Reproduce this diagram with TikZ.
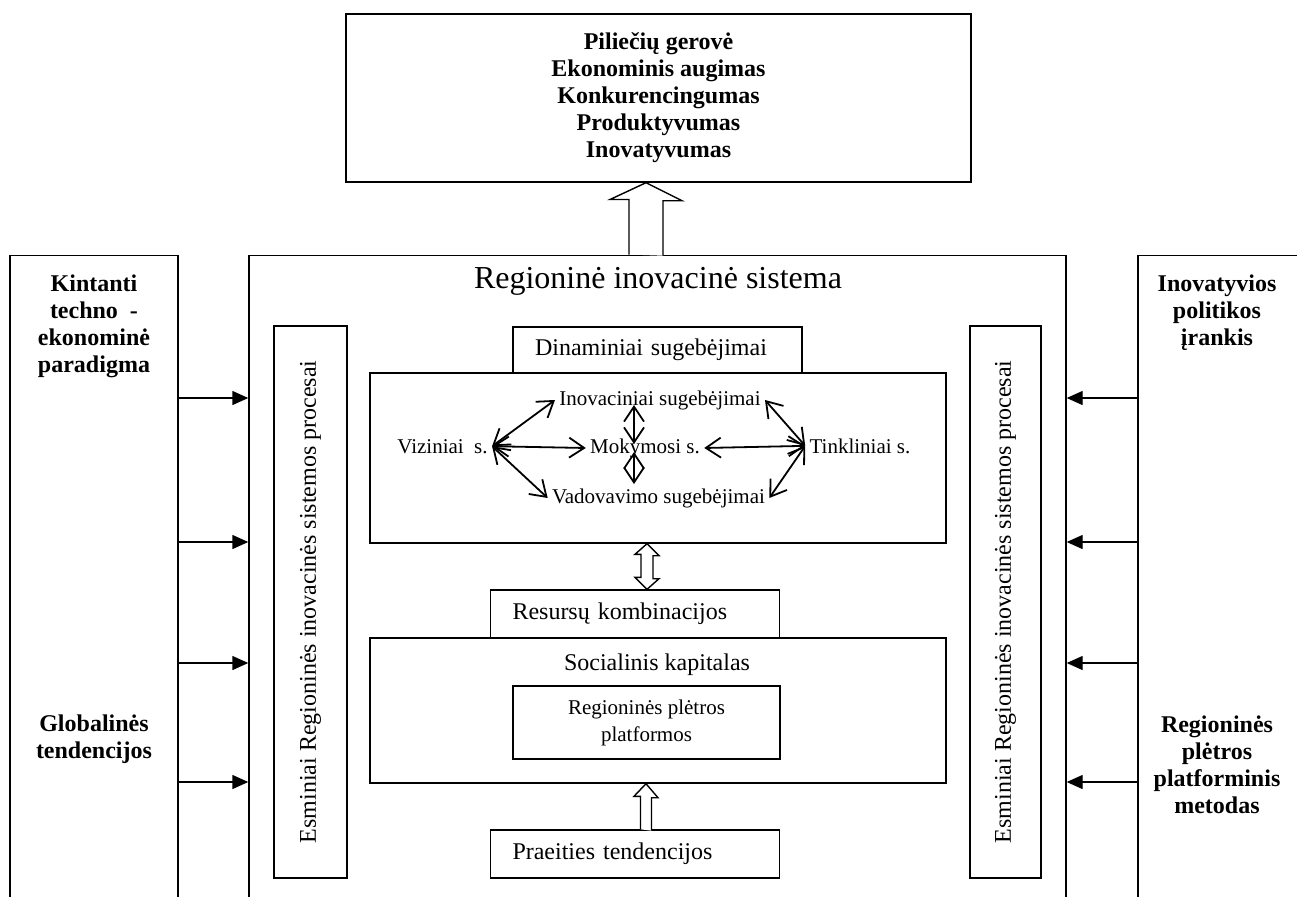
\documentclass[tikz,border=0pt]{standalone}
\usepackage{fontspec}
\setmainfont{Liberation Serif}
\usepackage{tikz}
\usetikzlibrary{arrows.meta}

\begin{document}
\begin{tikzpicture}[x=.5pt,y=-.5pt,font=\fontsize{12}{13.5}\selectfont]
    \tikzstyle{box}=[draw,line width=.7pt,rectangle,inner sep=0pt]
    \tikzstyle{tab}=[box,align=left,inner xsep=11pt,text width=122.5pt]
    \tikzstyle{lbl}=[inner sep=2pt,anchor=base,font=\fontsize{10.5}{12}\selectfont]
    \tikzstyle{bold}=[align=center,inner sep=0pt,font=\bfseries\fontsize{12}{13.5}\selectfont]
    \tikzstyle{inarr}=[draw,line width=.7pt,-{Triangle[length=8pt,width=7pt]}]
    \tikzstyle{caparr}=[draw,line width=.9pt,{Straight Barb[length=7.5pt,width=10pt]}-{Straight Barb[length=7.5pt,width=10pt]}]
    \tikzstyle{hollow}=[draw,line width=.7pt,fill=white]
    \useasboundingbox (0,0) rectangle (1297,896);
    \clip (0,0) rectangle (1297,896);
    % outer frames
    \node[box,minimum width=84pt,minimum height=330pt,anchor=north] (lbox) at (94,254.5) {};
    \node[box,minimum width=84pt,minimum height=330pt,anchor=north] (rbox) at (1222,254.5) {};
    \node[box,minimum width=408.5pt,minimum height=330pt,anchor=north] (ris) at (657.5,254.5) {};
    \node[box,bold,minimum width=312.5pt,minimum height=84pt] (top) at (658.5,98) {Piliečių gerovė\\Ekonominis augimas\\Konkurencingumas\\Produktyvumas\\Inovatyvumas};
    \node[bold,anchor=north] (kint) at (94,274) {Kintanti\\techno~ -\\ekonominė\\paradigma};
    \node[bold,anchor=north] (glob) at (94,714) {Globalinės\\tendencijos};
    \node[bold,anchor=north] (pol) at (1217,274) {Inovatyvios\\politikos\\įrankis};
    \node[bold,anchor=north] (metod) at (1217,715) {Regioninės\\plėtros\\platforminis\\metodas};
    \node[anchor=base,font=\fontsize{16}{19}\selectfont] (title) at (658,288) {Regioninė inovacinė sistema};
    \node[box,rotate=90,minimum width=276pt,minimum height=36.5pt] (lproc) at (310.5,602) {Esminiai Regioninės inovacinės sistemos procesai};
    \node[box,rotate=90,minimum width=276pt,minimum height=35.5pt] (rproc) at (1005.5,602) {Esminiai Regioninės inovacinės sistemos procesai};
    % capabilities
    \node[tab,minimum height=23pt] (dyn) at (657.5,350) {Dinaminiai sugebėjimai};
    \node[box,minimum width=288pt,minimum height=85pt] (cap) at (658,458) {};
    \node[lbl] (viz) at (442.5,453) {Viziniai\ \ s.};
    \node[lbl] (mok) at (645,453) {Mokymosi s.};
    \node[lbl] (tink) at (860,453) {Tinkliniai s.};
    \node[lbl] (inovs) at (660,405) {Inovaciniai sugebėjimai};
    \node[lbl] (vad) at (658.5,503) {Vadovavimo sugebėjimai};
    \coordinate (vx) at (634,447);
    \draw[caparr] (viz.east) -- (inovs.west);
    \draw[caparr] (viz.east) -- (mok.west);
    \draw[caparr] (viz.east) -- (vad.west);
    \draw[caparr] (tink.west) -- (inovs.east);
    \draw[caparr] (tink.west) -- (mok.east);
    \draw[caparr] (tink.west) -- (vad.east);
    \draw[caparr,shorten >=2pt] (inovs.base -| vx) -- (mok.center -| vx);
    \draw[caparr,shorten <=2pt] (mok.center -| vx) -- (vad.north -| vx);
    % resources
    \node[tab,minimum height=24pt] (res) at (635,614) {Resursų kombinacijos};
    \node[box,minimum width=288pt,minimum height=72.5pt] (soc) at (658,710.5) {};
    \node[anchor=base] (soctxt) at (657,670) {Socialinis kapitalas};
    \node[box,align=center,minimum width=133.5pt,minimum height=36.5pt,font=\fontsize{10.5}{13.5}\selectfont] (plat) at (646.5,722.5) {Regioninės plėtros\\platformos};
    \node[tab,minimum height=24pt] (prae) at (635,854) {Praeities tendencijos};
    % hollow arrows
    \coordinate (ax) at (646,0);
    \coordinate (bx) at (647,0);
    \draw[hollow] (ris.north -| ax) ++(-17,0) -- ++(0,-55) -- ++(-19,0) -- (top.south -| ax) -- ++(36,18) -- ++(-19,0) -- ++(0,55);
    \draw[hollow] (cap.south -| bx) -- ++(12,12) -- ++(-6,0) -- ++(0,23) -- ++(6,0) -- (res.north -| bx) -- ++(-12,-12) -- ++(6,0) -- ++(0,-23) -- ++(-6,0) -- cycle;
    \draw[hollow] (prae.north -| ax) ++(-5.5,0) -- ++(0,-33) -- ++(-6.5,0) -- (soc.south -| ax) -- ++(12,14) -- ++(-6.5,0) -- ++(0,33);
    % side influences
    \foreach \d in {71.75,143.75,204.25,263.75} {
      \draw[inarr] ([yshift=-\d pt]lbox.north east) -- ([yshift=-\d pt]ris.north west);
      \draw[inarr] ([yshift=-\d pt]rbox.north west) -- ([yshift=-\d pt]ris.north east);
    }
\end{tikzpicture}
\end{document}
